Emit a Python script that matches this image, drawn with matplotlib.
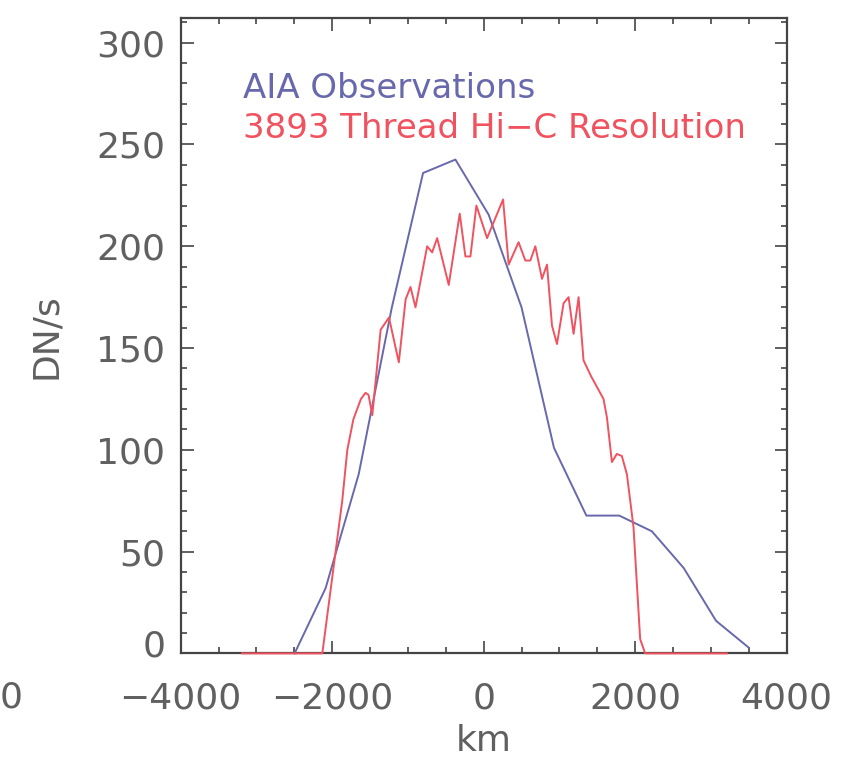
import matplotlib
matplotlib.use("Agg")
import matplotlib.pyplot as plt
from matplotlib.ticker import MultipleLocator
import matplotlib.transforms as mtransforms

plt.rcParams['font.family'] = ['DejaVu Sans']

# AIA observed intensity profile across the loop
aia_km = [-2496, -2087, -1650, -1212, -800, -373, 66, 500, 928,
          1356, 1790, 2220, 2640, 3068, 3494]
aia_dn = [0, 32, 88, 170, 236, 242.6, 215.5, 170, 101,
          67.7, 67.7, 60, 42, 16, 3]

# Model profile: 3893 threads at Hi-C resolution
hic_km = [-3190, -2130, -1867, -1800, -1720, -1620, -1560, -1520, -1470,
          -1360, -1250, -1120, -1030, -966, -900, -746, -680, -614, -461,
          -316, -241, -175, -96, 45, 256, 330, 461, 550, 616, 682, 770,
          836, 902, 968, 1055, 1121, 1187, 1253, 1318, 1420, 1582, 1627,
          1693, 1758, 1824, 1891, 1978, 2066, 2132, 3210]
hic_dn = [0, 0, 75, 100, 115, 125, 128, 127, 117,
          159, 165, 143, 174, 180, 170, 200, 197, 204, 181,
          216, 195, 195, 220, 204, 223, 191, 202, 193, 193, 200, 184,
          191, 161, 152, 172, 175, 157, 175, 144, 136, 125, 116,
          94, 98, 97, 88, 62, 7, 0, 0]

x_ticks = [-4000, -2000, 0, 2000, 4000]
y_ticks = [0, 50, 100, 150, 200, 250, 300]

blue = '#6868ac'
red = '#f0525f'
grey = '#606060'
axis_col = '#444444'

fig = plt.figure(figsize=(8.64, 7.62), dpi=100)
ax = fig.add_axes([0.2091, 0.1425, 0.7014, 0.8335])

ax.plot(aia_km, aia_dn, color=blue, lw=1.4, zorder=3, clip_on=False)
ax.plot(hic_km, hic_dn, color=red, lw=1.4, zorder=3.1, clip_on=False)

ax.set_xlim(-4000, 4000)
ax.set_ylim(0, 312)
ax.set_xticks(x_ticks)
ax.set_yticks(y_ticks)
ax.xaxis.set_minor_locator(MultipleLocator(500))
ax.yaxis.set_minor_locator(MultipleLocator(10))

for s in ax.spines.values():
    s.set_color(axis_col)
    s.set_linewidth(1.6)

ax.tick_params(which='both', direction='in', top=True, right=True,
               color=axis_col, width=1.2, labelcolor=grey, labelsize=26)
ax.tick_params(which='major', length=9)
ax.tick_params(which='minor', length=4.5)
ax.tick_params(axis='x', which='major', pad=20)
ax.tick_params(axis='y', which='major', pad=11)

ax.set_xlabel('km', fontsize=26, color=grey, labelpad=6)
ax.set_ylabel('DN/s', fontsize=26, color=grey, labelpad=24)

fig.canvas.draw()
# lift the bottom y label a little, as in the original plot
ylabels = ax.get_yticklabels()
ylabels[0].set_transform(ylabels[0].get_transform() +
                         mtransforms.ScaledTranslation(0, 10 / 100, fig.dpi_scale_trans))

ax.text(0.103, 0.8745, 'AIA Observations', transform=ax.transAxes,
        color=blue, fontsize=24.5, va='baseline', ha='left')
ax.text(0.103, 0.8115, '3893 Thread Hi\u2212C Resolution', transform=ax.transAxes,
        color=red, fontsize=24.5, va='baseline', ha='left')

# trailing digit of the neighbouring panel's axis label
fig.text(0.0, 0.085, '0', fontsize=26, color=grey, ha='left', va='center')

fig.savefig('out.png', dpi=100)
